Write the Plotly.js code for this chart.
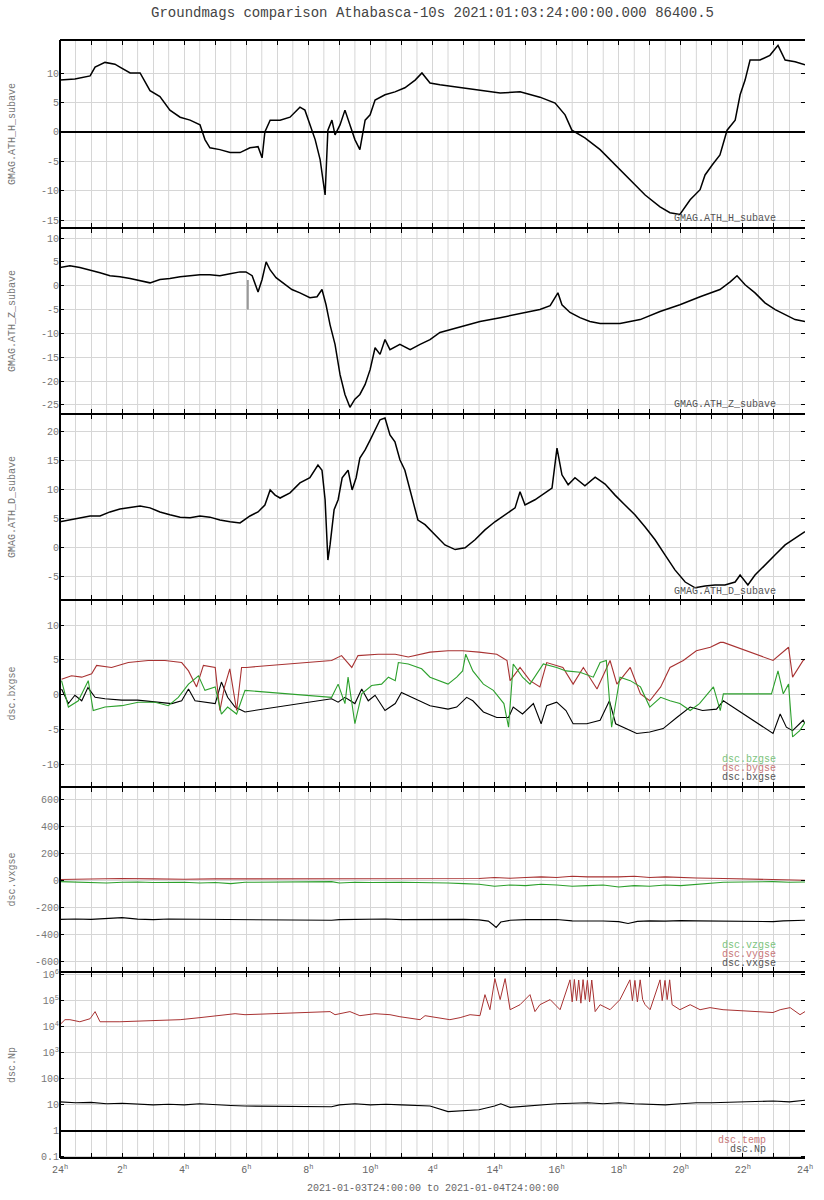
<!DOCTYPE html>
<html>
<head>
<meta charset="utf-8">
<script src="https://cdn.plot.ly/plotly-3.0.1.min.js"></script>
<style>html,body{margin:0;padding:0;background:#fff}#chart{width:824px;height:1200px}</style>
</head>
<body>
<div id="chart"></div>
<script>
// ---------------- DATA (hours after 2021-01-04 00:00 UT) ----------------
const hourTicks = [0,2,4,6,8,10,12,14,16,18,20,22,24];
const hourTickLabels = ['24<sup>h</sup>','2<sup>h</sup>','4<sup>h</sup>','6<sup>h</sup>','8<sup>h</sup>','10<sup>h</sup>','4<sup>d</sup>','14<sup>h</sup>','16<sup>h</sup>','18<sup>h</sup>','20<sup>h</sup>','22<sup>h</sup>','24<sup>h</sup>'];

// GMAG.ATH_H_subave
const H_t = [0,0.48,0.97,1.13,1.45,1.77,1.93,2.26,2.58,2.90,3.22,3.54,3.87,4.19,4.51,4.67,4.83,5.15,5.48,5.80,6.12,6.38,6.51,6.60,6.77,7.09,7.41,7.73,7.89,8.05,8.22,8.38,8.54,8.63,8.76,8.86,9.02,9.18,9.34,9.50,9.66,9.83,9.99,10.15,10.47,10.79,11.11,11.44,11.66,11.92,12.24,12.89,13.53,14.18,14.82,15.46,15.95,16.27,16.49,16.91,17.40,17.88,18.36,18.85,19.33,19.65,19.97,20.30,20.62,20.78,21.01,21.26,21.49,21.75,21.91,22.07,22.23,22.55,22.87,23.13,23.36,23.68,24];
const H_v = [8.8,9,9.5,11,11.8,11.5,11,10,10,7,6,3.7,2.5,2,1.2,-1.3,-2.7,-3,-3.5,-3.5,-2.7,-2.5,-4.4,0,2,2,2.5,4.2,3.7,1.2,-1.3,-4.7,-10.7,0.3,2,-0.5,1.2,3.7,1.2,-1.3,-3,2,2.9,5.4,6.3,6.8,7.5,8.8,10,8.3,8,7.5,7.1,6.6,6.8,5.9,4.9,2.9,0.3,-1,-3,-5.6,-8.1,-10.7,-12.7,-13.7,-14,-11.5,-9.8,-7.3,-5.6,-3.9,0.3,2,6.3,8.8,12.2,12.2,13,14.7,12.2,11.9,11.4];

// GMAG.ATH_Z_subave
const Z_t = [0,0.32,0.64,0.97,1.29,1.61,1.93,2.26,2.58,2.90,3.22,3.54,3.87,4.19,4.51,4.83,5.15,5.48,5.80,5.99,6.19,6.38,6.51,6.64,6.77,6.96,7.25,7.47,7.73,8.05,8.28,8.44,8.57,8.70,8.86,9.02,9.18,9.34,9.50,9.66,9.83,9.99,10.15,10.31,10.47,10.63,10.95,11.28,11.60,11.92,12.24,12.89,13.53,14.18,14.82,15.46,15.79,16.04,16.17,16.43,16.75,17.07,17.40,18.04,18.69,19.33,19.97,20.62,21.26,21.59,21.81,22.07,22.39,22.71,23.04,23.36,23.68,24];
const Z_v = [3.8,4.2,3.8,3.3,2.7,2.1,1.9,1.5,1,0.6,1.3,1.5,1.9,2.1,2.3,2.3,2.1,2.5,2.9,2.9,2.1,-1.3,1.3,5,3.3,1.7,0.2,-0.8,-1.5,-2.5,-2.3,-0.8,-4,-8.2,-12.3,-18.6,-22.8,-25.5,-23.8,-22.8,-20.7,-17.6,-13,-14.4,-11.3,-13.4,-12.3,-13.4,-12.3,-11.3,-9.8,-8.6,-7.5,-6.7,-5.9,-5,-4.2,-1.5,-4,-5.6,-6.7,-7.5,-7.9,-7.9,-7.1,-5.4,-4,-2.3,-0.8,0.8,2.1,0.2,-1.5,-3.6,-5,-6.1,-7.1,-7.5];
const Zspike_t = [6.05,6.05];
const Zspike_v = [1.2,-5];

// GMAG.ATH_D_subave
const D_t = [0,0.32,0.64,0.97,1.29,1.61,1.93,2.26,2.58,2.90,3.22,3.54,3.87,4.19,4.51,4.83,5.15,5.48,5.80,6.12,6.38,6.60,6.77,6.93,7.09,7.41,7.73,8.05,8.31,8.44,8.54,8.63,8.70,8.83,8.96,9.09,9.28,9.41,9.54,9.66,9.83,9.99,10.15,10.31,10.47,10.63,10.79,10.95,11.11,11.28,11.53,11.76,12.08,12.40,12.73,13.05,13.37,13.69,14.01,14.34,14.66,14.82,14.98,15.30,15.63,15.85,16.01,16.17,16.37,16.59,16.91,17.24,17.56,17.88,18.20,18.52,18.85,19.17,19.49,19.81,20.14,20.46,20.78,21.10,21.42,21.75,21.91,22.16,22.39,22.71,23.04,23.36,23.68,24];
const D_v = [4.5,4.8,5.2,5.5,5.5,6.2,6.7,6.9,7.2,6.9,6.2,5.7,5.3,5.2,5.5,5.3,4.8,4.5,4.3,5.5,6.2,7.4,10,9.1,8.6,9.5,11.2,12.1,14.3,13.4,8.3,-2.1,0.5,6.6,8.3,12.1,13.4,10,12.1,15.5,16.9,18.6,20.3,22.1,22.4,19.5,18.3,15.2,13.4,10,4.8,4,2.2,0.5,-0.3,0,1.4,3.1,4.5,5.7,6.9,9.7,7.4,8.3,9.5,10.3,17.2,12.6,10.9,12.1,10.7,12.2,11,9.1,7.4,5.7,3.6,1.4,-1.2,-3.8,-5.9,-6.9,-6.6,-6.4,-6.4,-5.9,-4.7,-6.4,-4.7,-2.9,-1.2,0.5,1.7,2.8];

// dsc.bxgse / bygse / bzgse
const bx_t = [0.05,0.27,0.48,0.7,0.9,1.13,1.45,1.99,2.5,3.06,3.6,3.92,4.14,4.35,4.67,5.0,5.2,5.4,5.64,5.96,8.75,8.96,9.18,9.5,9.72,9.93,10.15,10.47,10.8,11.0,11.33,11.65,11.92,12.5,12.78,13.1,13.3,13.64,14.07,14.45,14.6,14.9,15.25,15.5,15.68,16.0,16.3,16.53,16.97,17.4,17.7,17.9,18.15,18.58,19.0,19.43,19.87,20.3,20.7,21.15,21.37,22.97,23.2,23.4,23.6,23.94,24];
const bx_v = [0.8,-1.3,-0.1,-0.9,1,-0.4,-0.6,-0.8,-0.8,-1.1,-1.3,-0.9,0.8,-0.9,-1.1,-1.3,1.8,-0.4,-1.8,-2.5,-0.6,-1.1,-0.4,-1.3,0.8,-0.9,-0.1,-2.3,-1.3,0.3,-0.4,-1.1,-1.6,-2.1,-1.8,-0.4,-0.9,-2.5,-3.3,-3.3,-1.8,-2.8,-1.3,-4.2,-1.6,-1.1,-2.3,-4.2,-4.2,-3.7,-0.9,-4.2,-4.7,-5.6,-5.4,-4.9,-3.3,-1.8,-2.3,-2.1,-0.9,-5.6,-2.8,-4.7,-5.2,-3.7,-4.2];
const by_t = [0.05,0.37,0.7,1.02,1.18,1.66,2.2,2.84,3.38,3.92,4.14,4.4,4.62,5.0,5.15,5.3,5.47,5.69,5.85,6.01,8.75,9.07,9.4,9.6,10.25,10.8,11.22,11.92,12.5,12.97,13.5,14.07,14.4,14.5,14.82,15.14,15.46,15.68,16.2,16.53,16.86,17.3,17.72,17.94,18.37,18.7,19.0,19.35,19.65,20.08,20.5,20.95,21.27,21.37,22.97,23.2,23.47,23.6,23.94,24];
const by_v = [2.2,2.7,2.5,3,4.2,3.9,4.6,4.9,4.9,4.6,3.4,1.1,4.2,3.9,-2.3,1.1,3.7,-2.3,3.9,3.9,4.9,5.6,3.9,5.6,5.8,5.8,5.4,6.1,6.3,6.3,6.1,5.8,4.9,2,3.9,2,1.1,4.6,3.9,1.5,3.9,0.8,4.9,1.5,3.9,0.1,-0.9,1.1,3.9,4.9,6.3,6.8,7.5,7.5,4.9,5.8,6.8,2.5,4.9,5.1];
const bz_t = [0.05,0.27,0.59,0.91,1.07,1.45,1.99,2.52,3.06,3.49,3.81,4.14,4.46,4.67,5.0,5.2,5.4,5.69,5.96,8.75,8.96,9.18,9.28,9.5,9.72,10.04,10.36,10.58,10.8,10.9,11.22,11.65,11.92,12.5,12.78,12.97,13.07,13.3,13.64,13.96,14.3,14.45,14.6,14.9,15.14,15.57,16.0,16.3,16.75,17.18,17.4,17.6,17.77,18.04,18.37,18.7,19.0,19.35,19.65,19.97,20.3,20.6,21.05,21.27,21.37,22.92,23.13,23.3,23.47,23.6,23.83,24];
const bz_v = [2,-1.8,-0.9,2,-2.3,-1.8,-1.6,-1.1,-1.1,-1.6,-0.4,1.5,2.7,0.6,1.1,-2.8,-1.8,-2.8,0.6,-0.4,1.5,-1.3,2.5,-4.2,0.1,1.3,1.5,2.5,2,4.6,4.4,3.7,2.5,1.5,2.5,3.4,5.8,3.4,1.5,0.6,-1.3,-4.7,4.4,2.5,1.5,4.4,3.9,3.4,3.2,2.5,4.6,4.9,-4.7,2.5,2,1.1,-1.8,-0.4,-0.9,-1.3,-2.3,-1.3,1.1,-2.3,0.1,0.1,3.4,0.1,1.5,-6.1,-5.2,-4];

// dsc.vxgse / vygse / vzgse
const vx_t = [0,0.5,1,1.5,2,2.5,3,3.5,4,4.5,5,5.5,5.96,8.75,9,9.5,10,10.5,11,11.5,11.92,12.5,13,13.5,13.8,13.95,14.05,14.2,14.5,15,15.5,16,16.5,17,17.5,18,18.3,18.6,19,19.5,20,20.5,21,21.37,22.97,23.3,23.6,24];
const vx_v = [-285,-282,-285,-278,-272,-283,-287,-282,-283,-288,-286,-285,-290,-292,-287,-285,-286,-282,-287,-286,-288,-287,-285,-289,-298,-325,-345,-305,-292,-287,-284,-286,-296,-294,-297,-302,-315,-300,-296,-298,-294,-296,-298,-295,-302,-296,-294,-292];
const vy_t = [0,1,2,3,4,5,5.96,8.75,10,11,11.92,12.5,13.5,14,14.5,15,15.5,16,16.5,17,17.5,18,18.5,19,19.5,20,20.5,21.37,22.97,23.5,24];
const vy_v = [10,15,18,15,12,15,15,15,18,15,15,15,18,25,20,25,30,25,35,30,28,30,35,25,30,25,22,18,10,12,5];
const vz_t = [0,0.5,1,1.5,2,2.5,3,4,4.5,5,5.5,5.96,8.75,9,9.5,10,11,11.92,12.5,13,13.5,14,14.5,15,15.5,16,16.5,17,17.5,18,18.5,19,19.5,20,20.5,21,21.37,22.97,23.5,24];
const vz_v = [-5,-10,-12,-15,-10,-8,-12,-10,-15,-12,-20,-10,-5,-15,-10,-12,-10,-10,-15,-20,-25,-40,-30,-35,-25,-30,-40,-35,-30,-45,-35,-40,-30,-35,-25,-20,-10,-5,-10,-8];

// dsc.Np and dsc.temp
const Np_t = [0,0.5,1,1.5,2,2.5,3,3.5,4,4.5,5,5.5,5.96,8.75,9,9.5,10,10.5,11,11.5,11.92,12.5,13,13.5,14,14.2,14.5,15,15.5,16,16.5,17,17.5,18,18.5,19,19.5,20,20.5,21,21.37,22.97,23.5,24];
const Np_v = [13,12,12.5,11,11.5,11,10,10.5,10,11,10,9.5,9,8.5,10,11,10,10.5,10,9.5,9,5.5,6,6.5,9,11,8,9,10,11,11.5,12,11,12,11,10.5,10,11,12,12,12.5,14,13,15];
const temp_t = [0,0.16,0.32,0.64,0.97,1.13,1.29,1.93,2.90,3.87,4.51,5.15,5.64,5.96,8.70,8.86,9.34,9.66,10.15,10.63,10.95,11.60,11.76,12.56,12.89,13.21,13.53,13.69,13.85,14.01,14.18,14.34,14.50,14.82,15.14,15.30,15.46,15.79,16.11,16.43,16.50,16.57,16.64,16.71,16.78,16.85,16.92,16.99,17.06,17.13,17.24,17.40,17.72,18.04,18.36,18.44,18.52,18.60,18.69,18.77,18.85,19.01,19.33,19.40,19.49,19.56,19.64,19.72,19.97,20.30,20.62,20.94,21.36,22.97,23.20,23.52,23.84,24];
const temp_v = [12000,18600,18600,15500,20300,38000,15500,15500,17000,18600,22300,26500,31600,28900,38000,28900,38000,26500,31600,28900,24200,18600,26500,18600,22300,28900,26500,170000,45000,700000,110000,700000,45000,70000,170000,38000,70000,110000,45000,630000,90000,650000,100000,620000,80000,640000,110000,600000,90000,620000,38000,70000,45000,110000,630000,100000,600000,90000,630000,110000,70000,45000,630000,100000,600000,110000,630000,70000,45000,70000,45000,54000,45000,35000,45000,54000,28900,38000];

// ---------------- helpers ----------------
const pad = n => String(n).padStart(2,'0');
function toDate(h){
  const d = new Date(Date.UTC(2021,0,4) + Math.round(h*3600000));
  return d.getUTCFullYear()+'-'+pad(d.getUTCMonth()+1)+'-'+pad(d.getUTCDate())+' '+pad(d.getUTCHours())+':'+pad(d.getUTCMinutes())+':'+pad(d.getUTCSeconds());
}
const T = a => a.map(toDate);

const FONT = 'Liberation Mono, Courier New, monospace';
const BLACK = '#000000', RED = '#a83232', GREEN = '#2ca02c';
const GRID = '#d6d6d6';

function tr(t, v, n, color, w){
  return {x:T(t), y:v, xaxis:'x'+(n===1?'':n), yaxis:'y'+(n===1?'':n), type:'scatter', mode:'lines',
          line:{color:color, width:w||1}, hoverinfo:'skip', showlegend:false};
}

const data = [
  tr(H_t, H_v, 1, BLACK, 1.5),
  tr(Z_t, Z_v, 2, BLACK, 1.5),
  tr(Zspike_t, Zspike_v, 2, '#999999', 2),
  tr(D_t, D_v, 3, BLACK, 1.5),
  tr(bx_t, bx_v, 4, BLACK, 1.1),
  tr(by_t, by_v, 4, RED, 1.1),
  tr(bz_t, bz_v, 4, GREEN, 1.1),
  tr(vx_t, vx_v, 5, BLACK, 1.1),
  tr(vy_t, vy_v, 5, RED, 1.1),
  tr(vz_t, vz_v, 5, GREEN, 1.1),
  tr(Np_t, Np_v, 6, BLACK, 1.1),
  tr(temp_t, temp_v, 6, RED, 1),
  tr([0,24],[1,1], 6, BLACK, 2)
];

// ---------------- layout ----------------
const edges = [40,228,414,600,787,972,1158]; // panel boundaries (px)
const TOP = 40, BOT = 1158, PH = BOT - TOP;
const dom = i => [(BOT-edges[i])/PH, (BOT-edges[i-1])/PH];

const yTicks = [
  [-15,-10,-5,0,5,10],
  [-25,-20,-15,-10,-5,0,5,10],
  [-5,0,5,10,15,20],
  [-10,-5,0,5,10],
  [-600,-400,-200,0,200,400,600],
  [0.1,1,10,100,1000,10000,100000,1000000]
];
const yTickText6 = ['0.1','1','10','100','10<sup>3</sup>','10<sup>4</sup>','10<sup>5</sup>','10<sup>6</sup>'];
const yRanges = [[-16.3,15.6],[-26.9,12.1],[-9.0,23.1],[-13.3,13.6],[-675,696],[-1.04,6.1]];
const yTitles = ['GMAG.ATH_H_subave','GMAG.ATH_Z_subave','GMAG.ATH_D_subave','dsc.bxgse','dsc.vxgse','dsc.Np'];

const layout = {
  width:824, height:1200,
  margin:{l:60, r:19, t:40, b:42, pad:0},
  paper_bgcolor:'#ffffff', plot_bgcolor:'#ffffff',
  font:{family:FONT, size:10, color:'#666666'},
  title:{text:'Groundmags comparison Athabasca-10s 2021:01:03:24:00:00.000 86400.5',
         font:{family:FONT, size:14, color:'#444444'}, x:0.5, xref:'paper', y:0.99, yref:'container', yanchor:'middle'},
  showlegend:false,
  annotations:[], shapes:[]
};

for(let i=1;i<=6;i++){
  const xs = 'xaxis'+(i===1?'':i), ys = 'yaxis'+(i===1?'':i);
  layout[xs] = {
    type:'date', range:[toDate(0), toDate(24)], anchor:'y'+(i===1?'':i),
    matches: i===1?undefined:'x',
    tickmode:'array', tickvals:T(hourTicks), ticktext:hourTickLabels,
    ticks:'inside', ticklen:5, tickcolor:'#000', tickwidth:1,
    showticklabels: i===6, tickfont:{family:FONT, size:10, color:'#666666'},
    ticklabelstandoff: 4,
    showline:false, mirror:'ticks',
    showgrid:true, gridcolor:GRID, gridwidth:1,
    minor:{dtick:3600000, tick0:toDate(0), showgrid:true, gridcolor:GRID, gridwidth:1, ticks:'inside', ticklen:5, tickcolor:'#000'},
    zeroline:false, fixedrange:true
  };
  const yt = yTicks[i-1];
  layout[ys] = {
    domain: dom(i), anchor:'x'+(i===1?'':i),
    type: i===6 ? 'log' : 'linear',
    range: yRanges[i-1],
    tickmode:'array', tickvals:yt, ticktext: i===6 ? yTickText6 : yt.map(v=>String(v)),
    ticks:'inside', ticklen:4, tickcolor:'#000', tickwidth:1,
    tickfont:{family:FONT, size:10, color:'#777777'},
    showline:false, mirror:'ticks',
    showgrid:true, gridcolor:GRID, gridwidth:1,
    zeroline: i===1, zerolinecolor:'#000', zerolinewidth:2,
    fixedrange:true
  };
  const d = dom(i);
  layout.annotations.push({text:yTitles[i-1], xref:'paper', yref:'paper', x:(12-60)/745, y:(d[0]+d[1])/2,
    textangle:-90, showarrow:false, xanchor:'center', yanchor:'middle', font:{family:FONT, size:10, color:'#777777'}});
}

// half-hour vertical grid lines (between hourly grid lines), spanning all panels
for(let k=0;k<24;k++){
  const t = toDate(k+0.5);
  layout.shapes.push({type:'line', xref:'x', yref:'paper', x0:t, x1:t, y0:0, y1:1, layer:'below', line:{color:GRID, width:1}});
}
// panel boundary lines and left border
for(const e of edges){
  const p = (BOT-e)/PH;
  layout.shapes.push({type:'line', xref:'paper', yref:'paper', x0:0, x1:1, y0:p, y1:p, line:{color:'#000', width:2}});
}
layout.shapes.push({type:'line', xref:'paper', yref:'paper', x0:0, x1:0, y0:0, y1:1, line:{color:'#000', width:2}});

// in-panel labels / legends
const py = y => (BOT - y)/PH;
const xr = x => (x - 60)/745;
function lab(text, x, y, color){
  layout.annotations.push({text:text, xref:'paper', yref:'paper', x:xr(x), y:py(y), xanchor:'right', yanchor:'middle',
    showarrow:false, font:{family:FONT, size:10, color:color}});
}
lab('GMAG.ATH_H_subave', 778, 218, '#555555');
lab('GMAG.ATH_Z_subave', 778, 404, '#555555');
lab('GMAG.ATH_D_subave', 778, 591, '#555555');
lab('dsc.bzgse', 778, 759, '#7cc47c');
lab('dsc.bygse', 778, 768, '#c87878');
lab('dsc.bxgse', 778, 777, '#555555');
lab('dsc.vzgse', 778, 945, '#7cc47c');
lab('dsc.vygse', 778, 954, '#c87878');
lab('dsc.vxgse', 778, 963, '#555555');
lab('dsc.temp', 768, 1140, '#c87878');
lab('dsc.Np', 768, 1149, '#555555');
layout.annotations.push({text:'2021-01-03T24:00:00 to 2021-01-04T24:00:00', xref:'paper', yref:'paper', x:0.5, y:py(1188),
  xanchor:'center', yanchor:'middle', showarrow:false, font:{family:FONT, size:10, color:'#666666'}});

Plotly.newPlot('chart', data, layout, {staticPlot:true, displayModeBar:false});
</script>
</body>
</html>
